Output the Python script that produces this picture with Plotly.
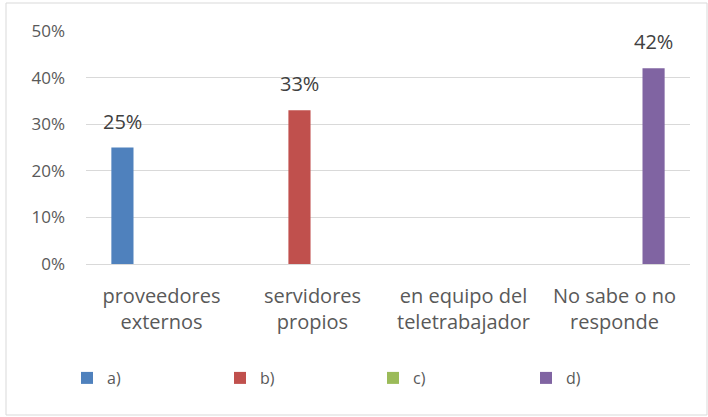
import plotly.graph_objects as go

# Categories (two-line labels) and series values in percent
categories = ["proveedores<br>externos", "servidores<br>propios",
              "en equipo del<br>teletrabajador", "No sabe o no<br>responde"]
series_names = ["a)", "b)", "c)", "d)"]
a_vals = [25, None, None, None]
b_vals = [None, 33, None, None]
c_vals = [None, None, 0, None]
d_vals = [None, None, None, 42]
y_ticks = [0, 10, 20, 30, 40, 50]

colors = ["#4F81BD", "#C0504D", "#9BBB59", "#8064A2"]
all_series = [a_vals, b_vals, c_vals, d_vals]
FONT = "Open Sans"

W, H = 708, 417
L, R, T, B = 86, 18, 31, 153
pw, ph = W - L - R, H - T - B

bargap = 0.31
fig = go.Figure()
for name, vals, col in zip(series_names, all_series, colors):
    fig.add_trace(go.Bar(
        x=list(range(len(categories))), y=vals, name=name,
        marker=dict(color=col, line=dict(width=0)),
    ))

# Value labels above each non-zero bar
slot = (1 - bargap) / len(series_names)
for si, vals in enumerate(all_series):
    for ci, v in enumerate(vals):
        if v:
            fig.add_annotation(
                x=ci + (si - (len(series_names) - 1) / 2) * slot, y=v,
                xref="x", yref="y", text=f"{v}%", showarrow=False,
                yanchor="bottom", yshift=11,
                font=dict(family=FONT, size=20, color="#404040"),
            )

# Outer chart border
fig.add_shape(
    type="rect", xref="paper", yref="paper",
    x0=(6 - L) / pw, x1=(707 - L) / pw,
    y0=(T + ph - 415) / ph, y1=(T + ph - 3) / ph,
    line=dict(color="#D9D9D9", width=1), fillcolor="rgba(0,0,0,0)", layer="below",
)

fig.update_layout(
    width=W, height=H,
    margin=dict(l=L, r=R, t=T, b=B, pad=0),
    paper_bgcolor="white", plot_bgcolor="white",
    barmode="group", bargap=bargap, bargroupgap=0.15,
    showlegend=True,
    legend=dict(
        orientation="h", x=(67 - L) / pw, xanchor="left",
        y=(T + ph - 378) / ph, yanchor="middle",
        entrywidth=108, entrywidthmode="pixels",
        font=dict(family=FONT, size=16, color="#595959"),
        itemclick=False, itemdoubleclick=False,
    ),
    xaxis=dict(
        tickmode="array", tickvals=list(range(len(categories))), ticktext=categories,
        range=[-0.5, len(categories) - 0.5],
        showgrid=False, zeroline=False, showline=False, ticks="",
        tickfont=dict(family=FONT, size=20, color="#595959"),
        ticklabelstandoff=18,
    ),
    yaxis=dict(
        range=[0, 50], tickmode="array", tickvals=y_ticks,
        ticktext=[f"{v}%" for v in y_ticks],
        showgrid=True, gridcolor="#D9D9D9", gridwidth=1,
        zeroline=True, zerolinecolor="#D9D9D9", zerolinewidth=1,
        showline=False, ticks="",
        tickfont=dict(family=FONT, size=17, color="#595959"),
        ticklabelstandoff=20,
    ),
)

fig.write_html("out.html")
